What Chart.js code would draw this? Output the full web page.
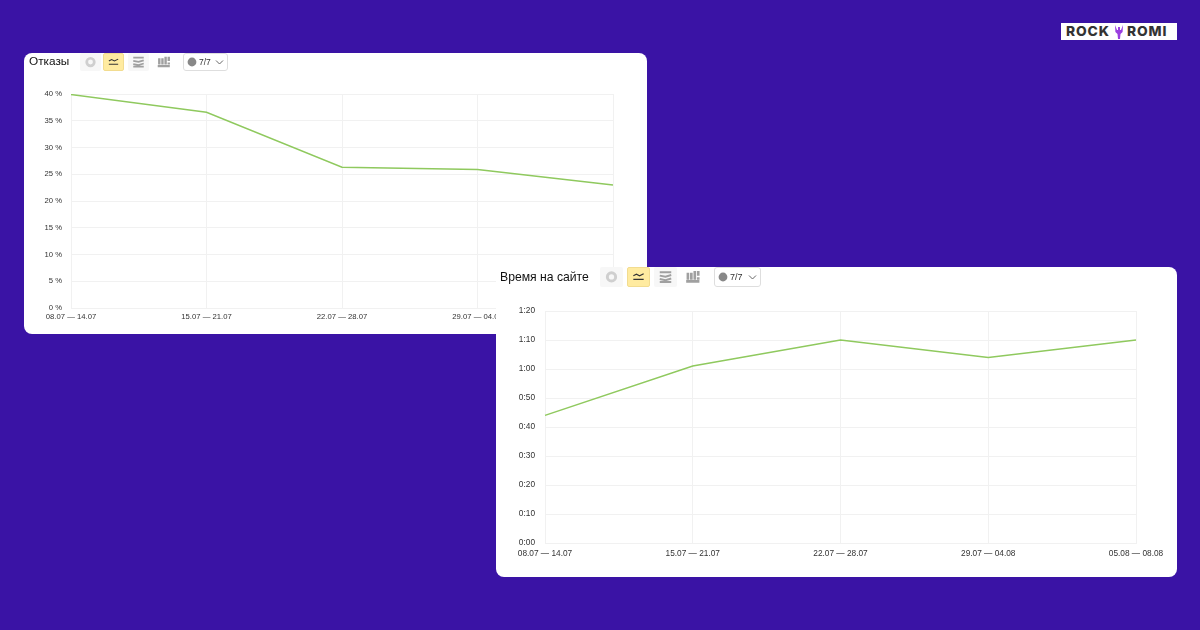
<!DOCTYPE html>
<html lang="ru">
<head>
<meta charset="utf-8">
<script src="https://cdn.jsdelivr.net/npm/chart.js@4"></script>
<style>
html, body { margin: 0; padding: 0; }
body { width: 1200px; height: 630px; background: #3a13a5; position: relative; overflow: hidden; font-family: "Liberation Sans", sans-serif; }
.card { position: absolute; background: #fff; border-radius: 8px; overflow: hidden; }
#card1 { left: 24px; top: 53px; width: 623px; height: 281px; }
#card2 { left: 496px; top: 267px; width: 681px; height: 310px; }
.card canvas { position: absolute; left: 0; top: 0; }
.title { position: absolute; color: #111; white-space: nowrap; }
#card1 .title { left: 5px; top: 1px; font-size: 11.8px; line-height: 15px; }
#card2 .title { left: 4px; top: 2px; font-size: 12.2px; line-height: 16px; }
.tool { position: absolute; top: 0; border-radius: 2px; box-sizing: border-box; display: block; }
.tool.off { background: #f7f7f7; }
.tool.on { background: #ffeba0; border: 1px solid #f2dc90; }
.sel { position: absolute; border: 1px solid #dedede; border-radius: 3px; box-sizing: border-box; color: #333; }
.sel svg { position: absolute; left: 0; top: 0; }
.sel span { position: absolute; }
#logo { position: absolute; left: 1061px; top: 23px; width: 116px; height: 17px; background: #fff; color: #333; font: 800 13.8px/17px Inter, sans-serif; letter-spacing: 0.9px; }
#logo span { position: absolute; top: 0; }
#logo svg { position: absolute; left: 53px; top: 1px; }
</style>
</head>
<body>
<div class="card" id="card1">
  <canvas id="bounceChart" width="623" height="281"></canvas>
  <div class="title">Отказы</div>
  <div id="tools1"></div>
</div>
<div class="card" id="card2">
  <canvas id="timeChart" width="681" height="310"></canvas>
  <div class="title">Время на сайте</div>
  <div id="tools2"></div>
</div>
<div id="logo">
  <span style="left:5px">ROCK</span>
  <svg width="10" height="15" viewBox="0 0 10 15"><path d="M1 1 L3 6 L4 6 L4 3 L6 3 L6 6 L7 6 L9 1 L8.6 8 L6.5 10 L6 15 L4 15 L3.5 10 L1.4 8 Z" fill="#9a3fe0"/></svg>
  <span style="left:66px">ROMI</span>
</div>

<script>
const periods = ['08.07 — 14.07', '15.07 — 21.07', '22.07 — 28.07', '29.07 — 04.08', '05.08 — 08.08'];
const bounceRates = [39.9, 36.6, 26.3, 25.9, 23.0];
const siteTimes = [44, 61, 70, 64, 70]; // секунды
const lineColor = '#8fc95e';
const gridColor = '#f1f1f1';
const labelColor = '#333';

// 0:40, 1:10 и т.д.
function formatTime(sec) {
    const m = Math.floor(sec / 60);
    const s = sec % 60;
    return m + ':' + String(s).padStart(2, '0');
}

function makeChart(id, values, opts) {
    const ctx = document.getElementById(id).getContext('2d');
    return new Chart(ctx, {
        type: 'line',
        data: {
            labels: periods,
            datasets: [{
                data: values,
                borderColor: lineColor,
                borderWidth: 1.5,
                pointRadius: 0,
                fill: false,
                tension: 0
            }]
        },
        options: {
            responsive: false,
            animation: false,
            layout: { padding: { left: 0, top: opts.top, right: opts.right, bottom: 0 } },
            plugins: { legend: { display: false }, tooltip: { enabled: false } },
            scales: {
                x: {
                    type: 'category',
                    offset: false,
                    grid: { color: gridColor, drawTicks: false },
                    border: { color: gridColor },
                    afterFit: s => { s.height = opts.bottom; },
                    ticks: {
                        color: labelColor,
                        font: { family: '"Liberation Sans"', size: opts.font },
                        padding: opts.xPad,
                        maxRotation: 0,
                        autoSkip: false
                    }
                },
                y: {
                    min: 0,
                    max: opts.max,
                    grid: { color: gridColor, drawTicks: false },
                    border: { color: gridColor },
                    afterFit: s => { s.width = opts.left; },
                    ticks: {
                        color: labelColor,
                        font: { family: '"Liberation Sans"', size: opts.font },
                        padding: opts.yPad,
                        stepSize: opts.step,
                        callback: opts.format
                    }
                }
            }
        }
    });
}

makeChart('bounceChart', bounceRates, {
    top: 41, right: 34, bottom: 26, left: 47, max: 40, step: 5, font: 7.7, xPad: 4, yPad: 9,
    format: v => v + ' %'
});
makeChart('timeChart', siteTimes, {
    top: 44, right: 41, bottom: 34, left: 49, max: 80, step: 10, font: 8.3, xPad: 6, yPad: 10,
    format: v => formatTime(v)
});

// панель над графиком
function icon(kind, c) {
    if (kind === 'pie') return `<circle cx="10" cy="8.6" r="3.6" fill="none" stroke="${c}" stroke-width="2.6"/>`;
    if (kind === 'line') return `<path d="M5 7.5 L8 6 L11 7.5 L15 5.5" fill="none" stroke="#333" stroke-width="1.1"/><path d="M5 11 H15" stroke="#333" stroke-width="1.3"/>`;
    if (kind === 'area') return `<path d="M5 4.5 H15 M5 7.5 L10 8.5 L15 7 M5 10.5 L10 11.5 L15 10 M5 13 H15" fill="none" stroke="${c}" stroke-width="1.7"/>`;
    return `<path d="M6 11 V5 M9 11 V5 M12 11 V3.5 M15 7.5 V3.5 M15 11 V9 M4.5 12.5 H16" fill="none" stroke="${c}" stroke-width="2.3"/>`;
}

function buildTools(id, xs, w, h, sel) {
    const box = document.getElementById(id);
    const kinds = ['pie', 'line', 'area', 'bars'];
    let html = '';
    kinds.forEach((k, i) => {
        const cls = k === 'line' ? 'on' : (k === 'bars' ? '' : 'off');
        const color = k === 'pie' ? '#cfcfcf' : '#a0a0a0';
        html += `<svg class="tool ${cls}" style="left:${xs[i]}px;width:${w}px;height:${h}px" viewBox="0 0 20 ${h * 20 / w}">${icon(k, color)}</svg>`;
    });
    html += `<div class="sel" style="left:${sel.x}px;top:0;width:${sel.w}px;height:${h}px;font-size:${sel.font}px">
        <svg width="${sel.w}" height="${h}"><circle cx="8" cy="${h / 2 - 1}" r="4.4" fill="#888"/><path d="M${sel.w - 13} ${h / 2 - 2.5} l3.5 3.5 l3.5 -3.5" fill="none" stroke="#666"/></svg>
        <span style="left:15px;top:${(h - sel.font - 2) / 2 - 1}px;line-height:${sel.font + 2}px">7/7</span></div>`;
    box.innerHTML = html;
}

buildTools('tools1', [56, 79, 104, 129], 21, 18, { x: 159, w: 45, font: 8.5 });
buildTools('tools2', [104, 131, 158, 185], 23, 20, { x: 218, w: 47, font: 9 });
</script>
</body>
</html>
